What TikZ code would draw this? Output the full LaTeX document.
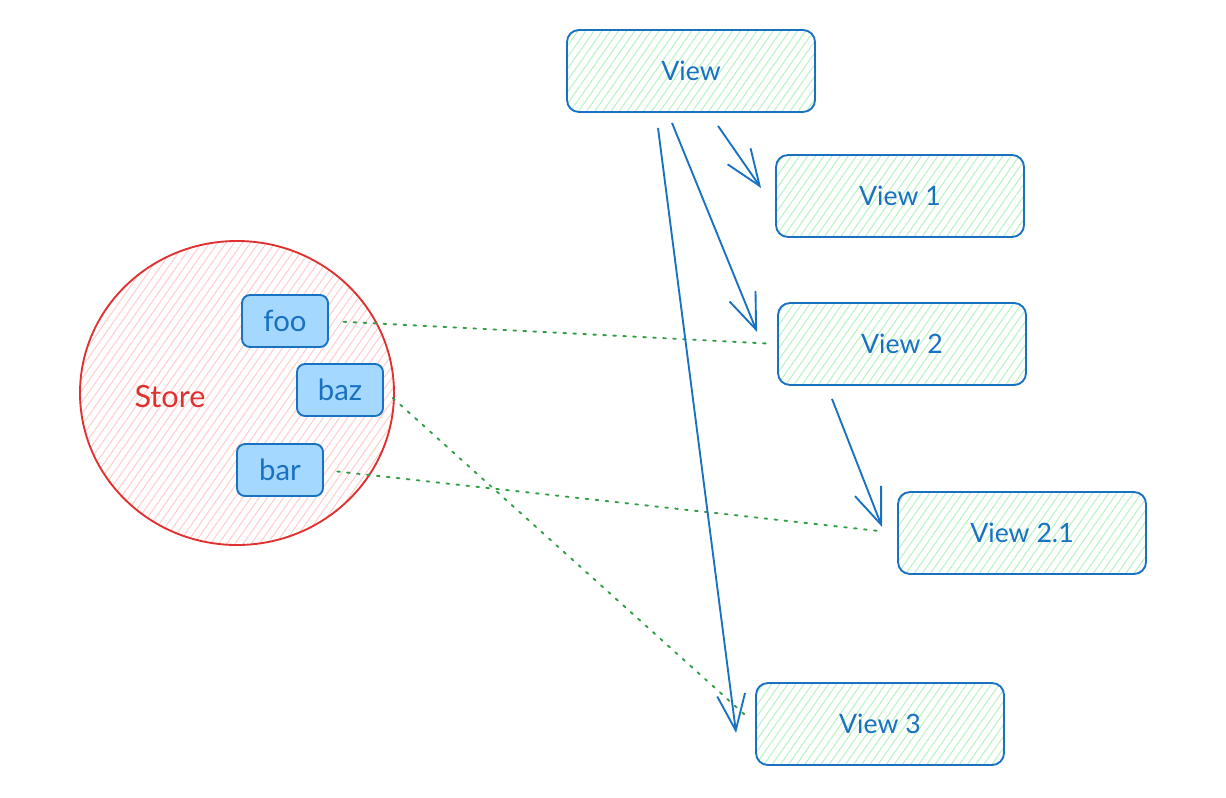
\documentclass[tikz,border=0pt]{standalone}
\usepackage{fontspec}
\setmainfont{Lato}
\usetikzlibrary{arrows.meta,patterns.meta,shapes.geometric}
\definecolor{exblue}{HTML}{1971C2}
\definecolor{exgreenfill}{HTML}{B2F2BB}
\definecolor{exred}{HTML}{E03131}
\definecolor{exredfill}{HTML}{FFC9C9}
\definecolor{exlightblue}{HTML}{A5D8FF}
\definecolor{exgreen}{HTML}{2F9E44}
\begin{document}
\begin{tikzpicture}[x=0.75pt,y=-0.75pt,
  viewbox/.style={draw=exblue, line width=1.4pt, rounded corners=9pt,
    minimum width=186pt, minimum height=61.5pt,
    pattern={Lines[angle=55,distance=5pt,line width=0.7pt]}, pattern color=exgreenfill,
    text=exblue, font=\fontsize{20}{24}\selectfont},
  keybox/.style={draw=exblue, line width=1.4pt, rounded corners=6pt,
    minimum width=64.5pt, minimum height=39pt, fill=exlightblue,
    text=exblue, font=\fontsize{22}{26}\selectfont},
  storecircle/.style={ellipse, draw=exred, line width=1.4pt,
    minimum width=235.5pt, minimum height=228pt,
    pattern={Lines[angle=55,distance=5pt,line width=0.7pt]}, pattern color=exredfill},
  storelabel/.style={text=exred, font=\fontsize{23}{27}\selectfont},
  arr/.style={draw=exblue, line width=1.4pt, -{Straight Barb[length=27pt,width=21pt]}},
  link/.style={draw=exgreen, line width=1.4pt, dash pattern=on 2pt off 5.5pt, line cap=round}
]
\path[use as bounding box, fill=white] (0,0) rectangle (1226,798);

% store
\node[storecircle] (store) at (237,393) {};
\node[storelabel] (storelabel) at (170,397) {Store};
\node[keybox] (foo) at (285,321) {foo};
\node[keybox] (baz) at (340,390) {baz};
\node[keybox] (bar) at (280,470) {bar};

% views
\node[viewbox] (view) at (691,71) {View};
\node[viewbox] (v1) at (900,196) {View 1};
\node[viewbox] (v2) at (902,344) {View 2};
\node[viewbox] (v21) at (1022,533) {View 2.1};
\node[viewbox] (v3) at (880,724) {View 3};

% links
\draw[link, shorten <=11pt, shorten >=5pt] (foo.east) -- (v2.west);
\draw[link, shorten <=9pt, shorten >=9pt] (baz.east) -- (v3.west);
\draw[link, shorten <=10pt, shorten >=13pt] (bar.east) -- (v21.west);

% arrows
\draw[arr] ([xshift=20.25pt,yshift=-9.75pt]view.south) -- ([xshift=-10.5pt,yshift=6pt]v1.west);
\draw[arr] ([xshift=-14.25pt,yshift=-7.5pt]view.south) -- ([xshift=-15pt,yshift=9pt]v2.west);
\draw[arr] ([xshift=-24.75pt,yshift=-11.25pt]view.south) -- ([xshift=-14.25pt,yshift=-6.75pt]v3.west);
\draw[arr] ([xshift=-52.5pt,yshift=-9.75pt]v2.south) -- ([xshift=-11.25pt,yshift=4.5pt]v21.west);
\end{tikzpicture}
\end{document}
